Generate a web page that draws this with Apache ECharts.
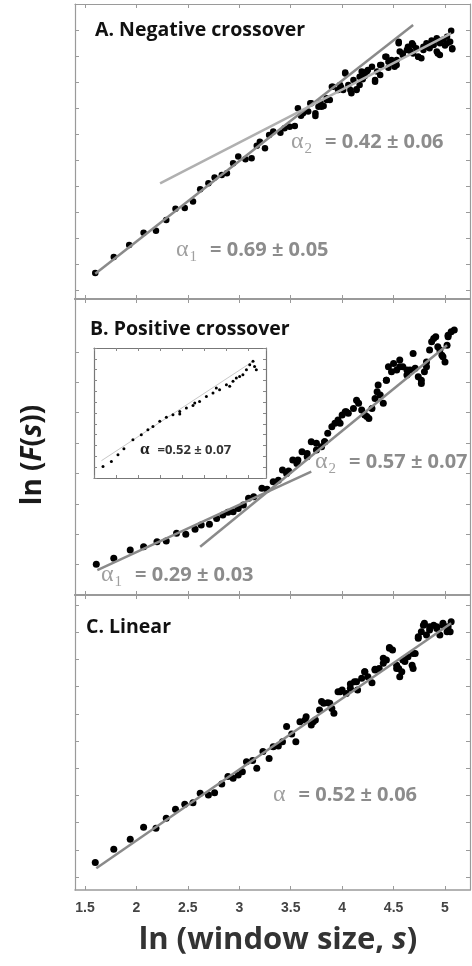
<!DOCTYPE html>
<html><head><meta charset="utf-8">
<script src="https://cdn.jsdelivr.net/npm/echarts@6/dist/echarts.min.js"></script>
<style>html,body{margin:0;padding:0;background:#fff}#c{width:472px;height:966px}</style>
</head><body><div id="c"></div><script>
// ---------- data ----------
const X_TICKS = [1.5, 2, 2.5, 3, 3.5, 4, 4.5, 5];
const X_MIN = 1.403, X_MAX = 5.243;

const A_TICKS = [0,1,2,3,4,5,6,7,8,9,10];
const A_POINTS = [
[1.60,0.65],[1.78,1.27],[1.93,1.73],[2.07,2.20],[2.19,2.28],[2.29,2.69],[2.38,3.12],[2.47,3.15],[2.55,3.40],[2.62,3.87],
[2.70,4.10],[2.76,4.32],[2.83,4.42],[2.88,4.49],[2.94,4.87],[2.99,5.13],[3.06,5.03],[3.12,5.07],[3.17,5.55],[3.20,5.70],
[3.25,5.45],[3.29,5.96],[3.33,6.09],[3.40,6.05],[3.44,6.22],[3.49,6.28],[3.54,6.31],[3.57,6.99],[3.62,6.80],[3.67,6.86],
[3.70,7.18],[3.74,6.69],[3.77,7.05],[3.82,7.08],[3.85,7.37],[3.88,7.31],[3.91,7.82],[3.96,7.69],[4.01,7.69],[4.03,8.36],
[4.06,7.88],[4.09,7.57],[4.11,8.08],[4.14,7.72],[4.17,7.88],[4.19,8.40],[4.22,8.23],[4.25,8.46],[4.29,8.59],[4.32,8.01],
[4.34,8.40],[4.37,8.27],[4.38,8.65],[4.42,8.97],[4.45,8.78],[4.48,8.72],[4.51,8.59],[4.53,8.85],[4.55,9.55],[4.56,9.17],
[4.59,9.04],[4.63,9.23],[4.64,9.36],[4.68,9.49],[4.69,9.10],[4.72,9.30],[4.74,8.97],[4.77,8.91],[4.79,9.36],[4.82,9.49],
[4.85,9.30],[4.89,9.42],[4.92,9.68],[4.93,9.10],[4.95,9.49],[4.98,9.62],[5.02,9.74],[5.05,9.55],[5.06,9.97],[5.07,9.30],
[3.60,6.70],[3.79,7.20],[3.99,7.80],[4.20,8.10],[4.45,8.55],[4.66,9.20],[4.87,9.60],[5.00,9.40],
[3.69,7.18],[3.74,6.80],[3.80,7.05],[3.85,7.31],[3.90,7.82],[3.98,7.88],[4.03,8.33],[4.08,7.69],[4.14,7.69],[4.17,8.20],
[4.24,8.40],[4.32,8.08],[4.37,8.65],[4.43,8.97],[4.48,8.85],[4.53,8.65],[4.55,9.49],[4.59,9.10],[4.64,9.30],[4.69,9.42],
[4.74,8.97],[4.79,9.23],[4.82,9.36],[4.89,9.55],[4.92,9.17],[4.95,9.04],[5.02,9.49],[5.07,9.26]
];
const A_FIT1 = [[1.60,0.62],[4.69,10.19]];
const A_FIT2 = [[2.23,4.10],[5.06,9.87]];

const B_TICKS = [1,2,3,4,5,6,7,8];
const B_POINTS = [
[1.61,1.01],[1.78,1.21],[1.94,1.48],[2.07,1.59],[2.20,1.75],[2.29,1.78],[2.39,2.03],[2.48,2.00],[2.57,2.16],[2.63,2.30],
[2.71,2.33],[2.78,2.52],[2.84,2.63],[2.89,2.72],[2.94,2.74],[2.99,2.85],[3.04,2.96],[3.09,3.18],[3.14,3.23],[3.22,3.51],
[3.27,3.48],[3.33,3.73],[3.38,3.78],[3.42,4.11],[3.48,4.08],[3.52,4.44],[3.57,4.44],[3.61,4.71],[3.66,4.66],[3.70,5.04],
[3.75,4.99],[3.80,4.88],[3.83,5.04],[3.86,5.32],[3.90,5.54],[3.93,5.65],[3.96,5.76],[4.00,5.92],[4.03,6.03],[4.06,5.98],
[4.11,6.14],[4.16,6.31],[4.19,6.09],[4.22,5.92],[4.26,5.81],[4.29,6.14],[4.32,6.47],[4.35,6.91],[4.37,6.58],[4.40,6.31],
[4.43,7.07],[4.45,7.51],[4.48,7.35],[4.53,7.40],[4.56,7.73],[4.59,7.51],[4.63,7.24],[4.66,7.40],[4.71,7.46],[4.74,7.18],
[4.77,6.96],[4.80,7.35],[4.82,7.67],[4.85,8.06],[4.89,8.44],[4.91,8.50],[4.93,8.17],[4.97,7.89],[5.00,7.67],[5.02,8.22],
[5.03,8.55],[5.06,8.66],[5.09,8.72],
[3.98,5.65],[4.04,6.03],[4.14,6.41],[4.24,5.87],[4.34,6.69],[4.43,7.07],[4.50,7.62],[4.56,7.51],[4.63,7.40],[4.69,7.95],
[4.77,7.07],[4.82,7.51],[4.87,8.33],[4.95,8.06],[4.98,7.84],[5.03,8.50],[3.83,5.04],[3.75,4.77],[3.66,4.55],[3.56,4.33],
[3.46,4.00]
];
const B_FIT1 = [[1.62,0.82],[3.70,4.06]];
const B_FIT2 = [[2.62,1.59],[5.02,8.22]];

const INSET_POINTS = [
[0.41,1.07],[0.79,1.53],[1.09,2.15],[1.36,2.70],[1.77,3.54],[2.15,4.00],[2.45,4.46],[2.68,4.76],[2.99,5.23],[3.29,5.60],
[3.59,5.85],[3.90,6.15],[3.90,5.90],[4.20,6.46],[4.50,6.70],[4.58,6.92],[4.80,7.07],[5.11,7.53],[5.41,7.85],[5.56,8.30],
[5.71,8.15],[6.02,8.61],[6.17,8.46],[6.32,8.92],[6.47,9.23],[6.62,9.38],[6.77,9.54],[6.93,10.00],[7.08,10.46],[7.23,10.77],
[7.30,10.30],[7.38,10.00]
];
const INSET_FIT = [[0.34,1.60],[7.23,10.77]];

const C_TICKS = [0,1,2,3,4,5,6,7,8,9,10];
const C_POINTS = [
[1.60,0.53],[1.78,1.02],[1.94,1.39],[2.07,1.83],[2.19,1.79],[2.29,2.16],[2.38,2.49],[2.47,2.67],[2.55,2.73],[2.62,3.08],
[2.70,3.01],[2.76,3.10],[2.83,3.42],[2.89,3.69],[2.94,3.63],[2.99,3.75],[3.03,3.87],[3.07,4.24],[3.13,4.28],[3.17,4.00],
[3.23,4.61],[3.29,4.36],[3.33,4.79],[3.38,4.82],[3.42,4.97],[3.46,5.53],[3.51,5.26],[3.55,4.97],[3.59,5.71],[3.65,5.89],
[3.70,5.59],[3.74,5.77],[3.78,6.14],[3.82,6.39],[3.86,6.41],[3.90,6.20],[3.92,6.02],[3.96,6.81],[4.00,6.88],[4.04,6.75],
[4.08,7.10],[4.12,7.18],[4.15,6.88],[4.19,7.31],[4.22,7.55],[4.25,7.36],[4.29,7.14],[4.32,7.64],[4.36,7.67],[4.40,8.04],
[4.43,7.98],[4.46,8.44],[4.49,8.35],[4.53,7.79],[4.55,7.67],[4.56,7.36],[4.58,7.55],[4.61,7.92],[4.64,8.10],[4.68,7.79],
[4.69,7.67],[4.71,8.22],[4.74,8.83],[4.77,9.02],[4.80,9.33],[4.82,8.90],[4.85,9.20],[4.89,9.26],[4.92,9.14],[4.95,8.90],
[4.98,9.26],[5.02,9.02],[5.03,9.20],[5.06,9.39],
[4.79,9.26],[4.85,9.08],[4.92,9.20],[4.98,9.33],[5.05,9.02],[4.74,8.78],[4.69,8.22],[4.59,7.98],[4.53,7.67],[4.46,8.41],
[4.40,7.86],[4.32,7.61],[4.22,7.55],[4.14,7.18],[4.08,6.94],[3.98,6.81],[3.88,6.39],[3.80,6.45],[3.72,5.71],[3.64,5.77]
];
const C_FIT = [[1.61,0.32],[5.06,9.33]];

// ---------- chart ----------
const chart = echarts.init(document.getElementById('c'), null, {renderer: 'canvas'});
const FRAME = '#9a9a9a';

function xAxis(grid, pos, labels, lw) {
  return {
    type: 'value', gridIndex: grid, position: pos, min: X_MIN, max: X_MAX,
    axisLine: {show: true, onZero: false, lineStyle: {color: FRAME, width: lw}},
    axisTick: {show: true, inside: true, length: 4, customValues: X_TICKS, lineStyle: {color: FRAME, width: 1}},
    axisLabel: {show: labels, customValues: X_TICKS, margin: 11, color: '#444', fontSize: 14, fontWeight: 'bold',
      fontFamily: 'Liberation Sans'},
    splitLine: {show: false}
  };
}
function yAxis(grid, pos, min, max, ticks) {
  return {
    type: 'value', gridIndex: grid, position: pos, min: min, max: max,
    axisLine: {show: true, onZero: false, lineStyle: {color: FRAME, width: 1.2}},
    axisTick: {show: true, inside: true, length: 4, customValues: ticks, lineStyle: {color: FRAME, width: 1}},
    axisLabel: {show: false, customValues: ticks},
    splitLine: {show: false}
  };
}
function insetAxis(pos, max) {
  return {
    type: 'value', gridIndex: 3, position: pos, min: 0, max: max, interval: 1,
    axisLine: {show: true, onZero: false, lineStyle: {color: '#777', width: 1.2}},
    axisTick: {show: true, inside: true, length: 3, lineStyle: {color: '#888', width: 1}},
    axisLabel: {show: false}, splitLine: {show: false}, z: 20
  };
}

const dot = (xi, yi, data, size) => ({
  type: 'scatter', xAxisIndex: xi, yAxisIndex: yi, data: data, symbolSize: size,
  itemStyle: {color: '#000', opacity: 1}, silent: true, z: 3
});
const fit = (xi, yi, data, color, w) => ({
  type: 'line', xAxisIndex: xi, yAxisIndex: yi, data: data, symbol: 'none',
  lineStyle: {color: color, width: w}, silent: true, z: 5
});

const richAlpha = (dark) => ({
  a: {fontFamily: 'Liberation Serif', fontSize: dark ? 17 : 24, fill: dark ? '#222' : '#a0a0a0', fontWeight: dark ? 'bold' : 'normal'},
  s: {fontFamily: 'Liberation Serif', fontSize: 15, fill: '#a0a0a0', padding: [14, 0, 0, 1]},
  t: {fontFamily: 'Open Sans', fontWeight: 'bold', fontSize: dark ? 13 : 20, fill: dark ? '#333' : '#8c8c8c',
      padding: [0, 0, 0, dark ? 8 : 13]}
});
function alphaText(x, y, text, dark) {
  return {type: 'text', x: x, y: y, z: 50,
    style: {text: text, rich: richAlpha(dark), verticalAlign: 'middle', align: 'left'}};
}
function title(x, y, text) {
  return {type: 'text', x: x, y: y, z: 50,
    style: {text: text, fontFamily: 'Open Sans', fontWeight: 'bold', fontSize: 19.5, fill: '#111', verticalAlign: 'middle'}};
}

chart.setOption({
  animation: false,
  backgroundColor: '#fff',
  grid: [
    {left: 75, right: 2, top: 4, height: 295},
    {left: 75, right: 2, top: 299, height: 296},
    {left: 75, right: 2, top: 595, height: 295},
    {left: 94, top: 348, width: 172, height: 130, show: true, backgroundColor: '#fff', borderWidth: 0, z: 10}
  ],
  xAxis: [
    xAxis(0, 'bottom', false, 2), xAxis(0, 'top', false, 1.2),
    xAxis(1, 'bottom', false, 2), xAxis(1, 'top', false, 2),
    xAxis(2, 'bottom', true, 1.5), xAxis(2, 'top', false, 2),
    insetAxis('bottom', 7.82), insetAxis('top', 7.82)
  ],
  yAxis: [
    yAxis(0, 'left', -0.35, 11, A_TICKS), yAxis(0, 'right', -0.35, 11, A_TICKS),
    yAxis(1, 'left', 0, 9.74, B_TICKS), yAxis(1, 'right', 0, 9.74, B_TICKS),
    yAxis(2, 'left', -0.48, 10.37, C_TICKS), yAxis(2, 'right', -0.48, 10.37, C_TICKS),
    insetAxis('left', 12), insetAxis('right', 12)
  ],
  series: [
    dot(0, 0, A_POINTS, 6.5),
    fit(0, 0, A_FIT1, '#8a8a8a', 2.5),
    fit(0, 0, A_FIT2, '#b0b0b0', 2.5),
    dot(2, 2, B_POINTS, 7),
    fit(2, 2, B_FIT1, '#8a8a8a', 2.5),
    fit(2, 2, B_FIT2, '#8a8a8a', 2.5),
    dot(4, 4, C_POINTS, 7),
    fit(4, 4, C_FIT, '#8a8a8a', 2.5),
    Object.assign(dot(6, 6, INSET_POINTS, 3), {z: 30}),
    Object.assign(fit(6, 6, INSET_FIT, '#c8c8c8', 1), {z: 29})
  ],
  graphic: [
    title(95, 30, 'A. Negative crossover'),
    alphaText(291, 142, '{a|α}{s|2}{t|= 0.42 ± 0.06}', false),
    alphaText(176, 250, '{a|α}{s|1}{t|= 0.69 ± 0.05}', false),
    title(90, 329, 'B. Positive crossover'),
    alphaText(315, 462, '{a|α}{s|2}{t|= 0.57 ± 0.07}', false),
    alphaText(101, 575, '{a|α}{s|1}{t|= 0.29 ± 0.03}', false),
    alphaText(140, 450, '{a|α}{t|=0.52 ± 0.07}', true),
    title(86, 627, 'C. Linear'),
    alphaText(273, 795, '{a|α}{t|= 0.52 ± 0.06}', false),
    {type: 'text', x: 278, y: 940, z: 50,
      style: {text: '{n|ln (window size, }{i|s}{n|)}', align: 'center', verticalAlign: 'middle',
        rich: {n: {fontFamily: 'Open Sans', fontWeight: 'bold', fontSize: 31, fill: '#333'},
               i: {fontFamily: 'Open Sans', fontWeight: 'bold', fontStyle: 'italic', fontSize: 31, fill: '#333'}}}},
    {type: 'text', x: 33, y: 455, rotation: Math.PI / 2, z: 50,
      style: {text: '{n|ln (}{i|F}{n|(}{i|s}{n|))}', align: 'center', verticalAlign: 'middle',
        rich: {n: {fontFamily: 'Open Sans', fontWeight: 'bold', fontSize: 28, fill: '#1a1a1a'},
               i: {fontFamily: 'Open Sans', fontWeight: 'bold', fontStyle: 'italic', fontSize: 28, fill: '#1a1a1a'}}}}
  ]
});
</script></body></html>
